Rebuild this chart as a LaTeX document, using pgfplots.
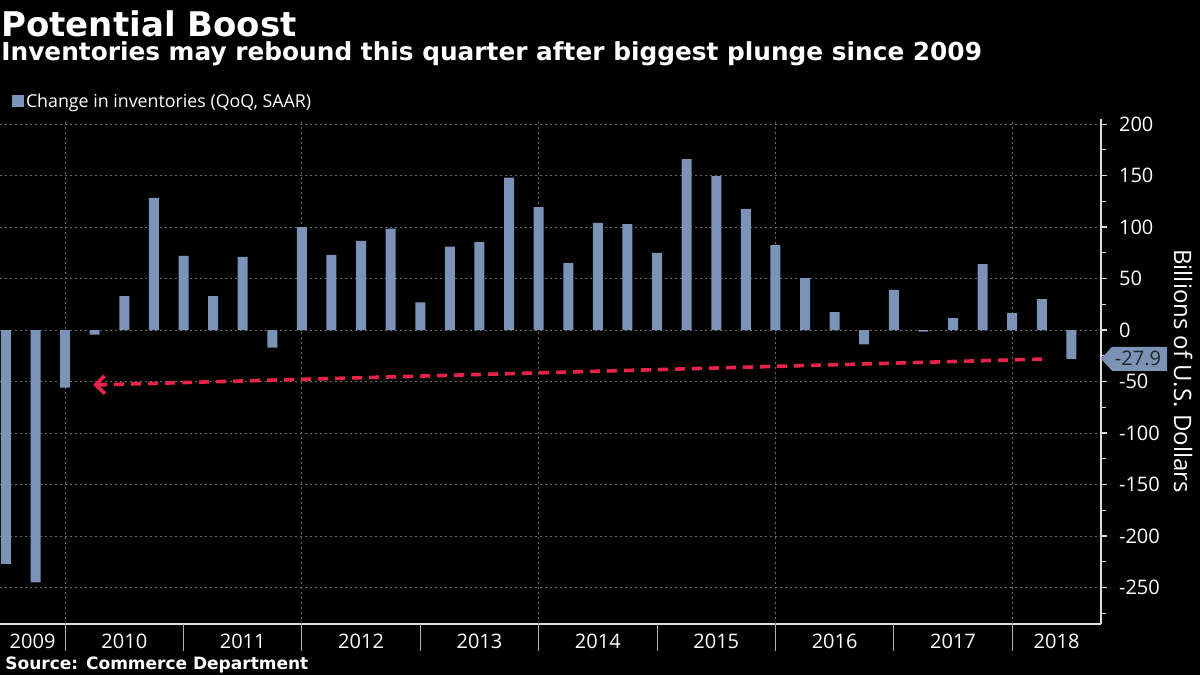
\documentclass[border=0pt]{standalone}
\usepackage{pgfplots}
\pgfplotsset{compat=1.18}
\usepackage{pgfplotstable}
\usepackage{fontspec}
\setmainfont{Open Sans}
\newfontfamily\titlefont{DejaVu Sans}
\usetikzlibrary{arrows.meta}
\definecolor{barc}{HTML}{7C93B8}
\definecolor{arrowc}{HTML}{E8234A}
\definecolor{gridc}{HTML}{6A6A6A}
\definecolor{axc}{HTML}{DDDDDD}

\pgfplotstableread{
x y
-2 -227
-1 -245
0 -56
1 -4.5
2 33
3 128.5
4 72
5 33
6 71
7 -17
8 100
9 73
10 86.5
11 98.5
12 27
13 81
14 85.5
15 148
16 119.5
17 65
18 104
19 103
20 75
21 166
22 149.5
23 117.5
24 82.5
25 50.5
26 17.5
27 -14
28 39
29 -1.6
30 11.7
31 64
32 16.5
33 30
34 -27.9
}\inv

\begin{document}
\begin{tikzpicture}
\fill[black] (0,0) rectangle (600pt,337.5pt);
\useasboundingbox (0,0) rectangle (600pt,337.5pt);
% titles
\node[anchor=base west, inner sep=0pt, text=white, font=\titlefont\bfseries\fontsize{17}{17}\selectfont] at (0.5pt,319pt) {Potential Boost};
\node[anchor=base west, inner sep=0pt, text=white, font=\titlefont\bfseries\fontsize{12.4}{12.4}\selectfont] at (0.5pt,307pt) {Inventories may rebound this quarter after biggest plunge since 2009};
% legend
\fill[barc] (6pt,284pt) rectangle (12pt,290pt);
\node[anchor=base west, inner sep=0pt, text=white, font=\fontsize{8.9}{8.9}\selectfont] at (12.8pt,283.5pt) {Change in inventories (QoQ, SAAR)};
% source
\node[anchor=base west, inner sep=0pt, text=white, font=\titlefont\bfseries\fontsize{8.5}{8.5}\selectfont] at (2.5pt,2.5pt) {Source: Commerce Department};
% y label
\node[rotate=-90, inner sep=0pt, text=white, font=\fontsize{12}{12}\selectfont] at (591.5pt,152pt) {Billions of U.S. Dollars};
\begin{axis}[
  at={(0pt,25.5pt)}, anchor=south west,
  width=550.5pt, height=252.5pt, scale only axis,
  xmin=-2.2, xmax=35, ymin=-285.5, ymax=205,
  clip=false,
  axis x line*=bottom, axis y line*=right,
  axis line style={axc, line width=0.6pt},
  ytick pos=right, yticklabel pos=right,
  xtick pos=bottom,
  ytick={-250,-200,...,200},
  minor ytick={-275,-225,...,175},
  tick align=outside,
  major tick length=3pt, minor tick length=2.5pt,
  y tick style={axc, line width=0.6pt},
  /pgf/number format/assume math mode=true,
  yticklabel style={font=\fontsize{10}{10}\selectfont, text=white, xshift=2.5pt},
  ymajorgrids=true,
  major grid style={gridc, line width=0.4pt, dash pattern=on 1pt off 1.5pt},
  xtick={-1.1,2,6,10,14,18,22,26,30,33.5},
  xticklabels={2009,2010,2011,2012,2013,2014,2015,2016,2017,2018},
  major x tick style={draw=none},
  xticklabel style={font=\fontsize{10}{10}\selectfont, text=white, yshift=1.5pt},
  extra x ticks={0,4,...,32},
  extra x tick labels={},
  extra x tick style={major tick length=13.5pt, tick align=outside, xmajorgrids=false,
     major x tick style={axc!80!black, line width=0.5pt, draw=axc!80!black}},
  ybar, bar width=5pt, bar shift=0pt,
]
\pgfplotsinvokeforeach{0,8,16,24,32}{
  \draw[gridc, line width=0.4pt, dash pattern=on 1pt off 1.5pt] (axis cs:#1,-285.5) -- (axis cs:#1,205);
}
\addplot[fill=barc, draw=none] table[x=x,y=y] {\inv};
\draw[arrowc, line width=1.8pt, dash pattern=on 5pt off 3.5pt, -{Straight Barb[length=4.5pt,width=9pt]}] (axis cs:33,-28.2) -- (axis cs:0.95,-53.4);
\fill[barc] (axis cs:35,-27.9) -- ++(5.5pt,6pt) -- ++(27.5pt,0pt) -- ++(0pt,-12pt) -- ++(-27.5pt,0pt) -- cycle;
\node[text=black!85, font=\fontsize{10}{10}\selectfont, inner sep=0pt] at ([xshift=18.5pt]axis cs:35,-27.9) {-27.9};
\end{axis}
\end{tikzpicture}
\end{document}
